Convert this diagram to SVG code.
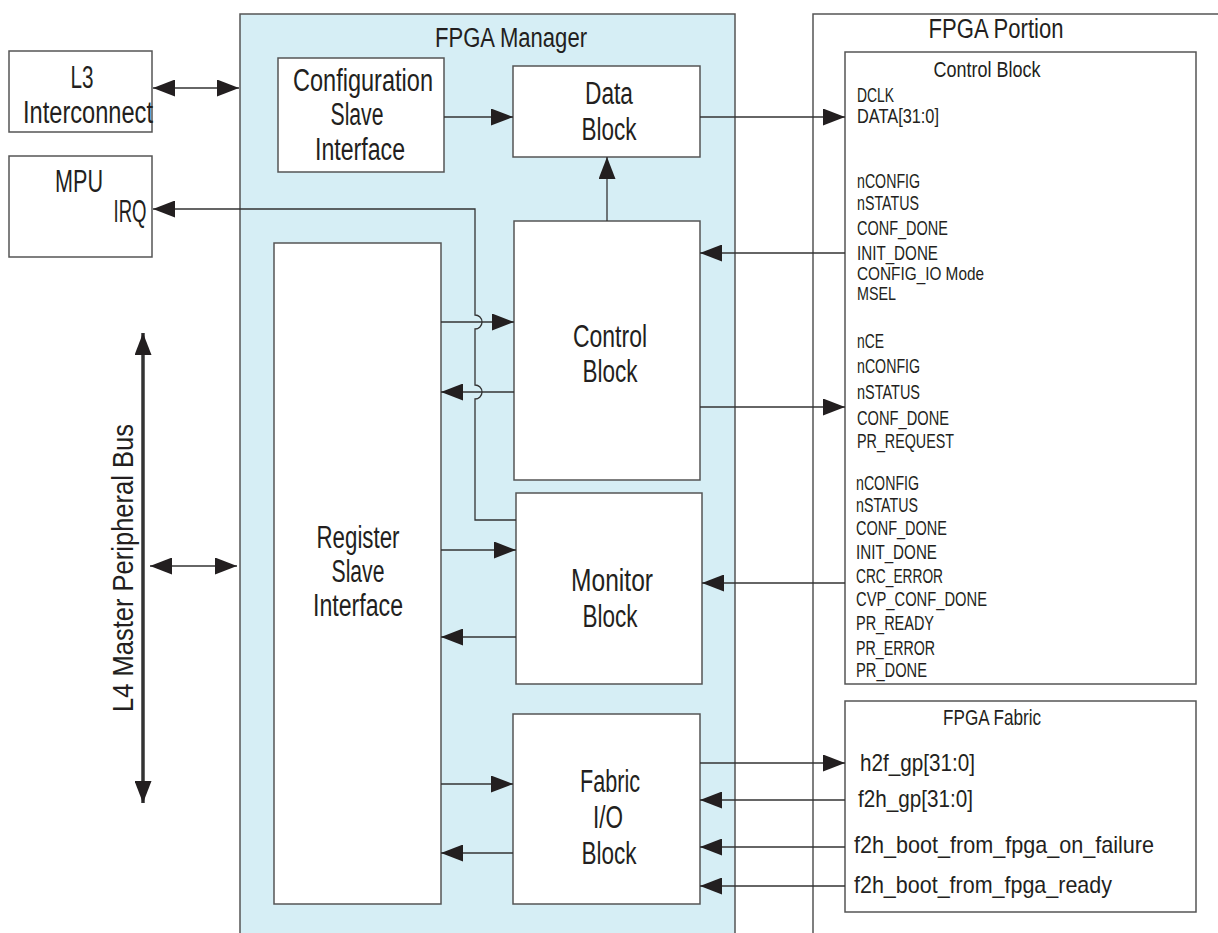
<svg xmlns="http://www.w3.org/2000/svg" width="1218" height="933" viewBox="0 0 1218 933">
<style>
text{font-family:"Liberation Sans",Arial,sans-serif;fill:#231f20}
.box{fill:#fff;stroke:#555;stroke-width:1.5}
.big{font-size:31px;text-anchor:middle}
.title{font-size:27px;text-anchor:middle}
.sig{font-size:20px}
.fab{font-size:24px}
.ln{fill:none;stroke:#333;stroke-width:1.3}
.a1{marker-end:url(#ah)}
.a2{marker-start:url(#ah);marker-end:url(#ah)}
</style>
<defs>
<marker id="ah" viewBox="0 0 22 17" refX="22" refY="8.5" markerWidth="22" markerHeight="17" markerUnits="userSpaceOnUse" orient="auto-start-reverse">
<path d="M0,0 L22,8.5 L0,17 z" fill="#231f20"/>
</marker>
</defs>
<rect width="1218" height="933" fill="#fff"/>

<g id="fpga-manager">
<rect x="240" y="14" width="495" height="940" fill="#d6eef5" stroke="#555" stroke-width="1.5"/>
<text class="title" x="511" y="47" textLength="152" lengthAdjust="spacingAndGlyphs">FPGA Manager</text>
</g>
<g id="fpga-portion">
<rect x="813" y="14" width="500" height="1000" fill="none" stroke="#555" stroke-width="1.5"/>
<text class="title" x="996" y="38" textLength="135" lengthAdjust="spacingAndGlyphs">FPGA Portion</text>
</g>

<g id="l3">
<rect class="box" x="9" y="51" width="143" height="81"/>
<text class="big" x="82" y="88" textLength="23" lengthAdjust="spacingAndGlyphs">L3</text>
<text class="big" x="88" y="123" textLength="130" lengthAdjust="spacingAndGlyphs">Interconnect</text>
</g>
<g id="mpu">
<rect class="box" x="9" y="156" width="143" height="101"/>
<text class="big" x="79" y="192" textLength="48" lengthAdjust="spacingAndGlyphs">MPU</text>
<text class="big" x="130" y="222" textLength="33" lengthAdjust="spacingAndGlyphs">IRQ</text>
</g>
<g id="config-slave">
<rect class="box" x="278" y="58" width="166" height="114"/>
<text class="big" x="363" y="91" textLength="140" lengthAdjust="spacingAndGlyphs">Configuration</text>
<text class="big" x="357" y="125" textLength="53" lengthAdjust="spacingAndGlyphs">Slave</text>
<text class="big" x="360" y="160" textLength="90" lengthAdjust="spacingAndGlyphs">Interface</text>
</g>
<g id="data-block">
<rect class="box" x="513" y="66" width="187" height="91"/>
<text class="big" x="609" y="104" textLength="48" lengthAdjust="spacingAndGlyphs">Data</text>
<text class="big" x="609" y="140" textLength="55" lengthAdjust="spacingAndGlyphs">Block</text>
</g>
<g id="control-block">
<rect class="box" x="514" y="221" width="186" height="259"/>
<text class="big" x="610" y="347" textLength="74" lengthAdjust="spacingAndGlyphs">Control</text>
<text class="big" x="610" y="382" textLength="55" lengthAdjust="spacingAndGlyphs">Block</text>
</g>
<g id="register-slave">
<rect class="box" x="274" y="243" width="167" height="661"/>
<text class="big" x="358" y="548" textLength="83" lengthAdjust="spacingAndGlyphs">Register</text>
<text class="big" x="358" y="582" textLength="53" lengthAdjust="spacingAndGlyphs">Slave</text>
<text class="big" x="358" y="616" textLength="90" lengthAdjust="spacingAndGlyphs">Interface</text>
</g>
<g id="monitor-block">
<rect class="box" x="516" y="493" width="186" height="191"/>
<text class="big" x="612" y="591" textLength="82" lengthAdjust="spacingAndGlyphs">Monitor</text>
<text class="big" x="610" y="627" textLength="55" lengthAdjust="spacingAndGlyphs">Block</text>
</g>
<g id="fabric-io-block">
<rect class="box" x="513" y="714" width="187" height="190"/>
<text class="big" x="610" y="792" textLength="60" lengthAdjust="spacingAndGlyphs">Fabric</text>
<text class="big" x="608" y="828" textLength="30" lengthAdjust="spacingAndGlyphs">I/O</text>
<text class="big" x="609" y="864" textLength="55" lengthAdjust="spacingAndGlyphs">Block</text>
</g>
<g id="fpga-control-block">
<rect class="box" x="845" y="52" width="351" height="632"/>
<text x="987" y="77" style="font-size:22px;text-anchor:middle" textLength="107" lengthAdjust="spacingAndGlyphs">Control Block</text>
<text class="sig" x="857" y="102" textLength="37" lengthAdjust="spacingAndGlyphs">DCLK</text>
<text class="sig" x="857" y="123" textLength="82" lengthAdjust="spacingAndGlyphs">DATA[31:0]</text>
<text class="sig" x="857" y="188" textLength="63" lengthAdjust="spacingAndGlyphs">nCONFIG</text>
<text class="sig" x="857" y="210" textLength="62" lengthAdjust="spacingAndGlyphs">nSTATUS</text>
<text class="sig" x="857" y="235" textLength="91" lengthAdjust="spacingAndGlyphs">CONF_DONE</text>
<text class="sig" x="857" y="260" textLength="81" lengthAdjust="spacingAndGlyphs">INIT_DONE</text>
<text class="sig" x="857" y="280" style="font-size:18.5px" textLength="127" lengthAdjust="spacingAndGlyphs">CONFIG_IO Mode</text>
<text class="sig" x="857" y="300" style="font-size:18.5px" textLength="39" lengthAdjust="spacingAndGlyphs">MSEL</text>
<text class="sig" x="857" y="348" textLength="27" lengthAdjust="spacingAndGlyphs">nCE</text>
<text class="sig" x="857" y="373" textLength="63" lengthAdjust="spacingAndGlyphs">nCONFIG</text>
<text class="sig" x="857" y="399" textLength="63" lengthAdjust="spacingAndGlyphs">nSTATUS</text>
<text class="sig" x="857" y="425" textLength="92" lengthAdjust="spacingAndGlyphs">CONF_DONE</text>
<text class="sig" x="857" y="448" textLength="97" lengthAdjust="spacingAndGlyphs">PR_REQUEST</text>
<text class="sig" x="856" y="490" textLength="63" lengthAdjust="spacingAndGlyphs">nCONFIG</text>
<text class="sig" x="856" y="512" textLength="62" lengthAdjust="spacingAndGlyphs">nSTATUS</text>
<text class="sig" x="856" y="535" textLength="91" lengthAdjust="spacingAndGlyphs">CONF_DONE</text>
<text class="sig" x="856" y="559" textLength="81" lengthAdjust="spacingAndGlyphs">INIT_DONE</text>
<text class="sig" x="856" y="583" textLength="87" lengthAdjust="spacingAndGlyphs">CRC_ERROR</text>
<text class="sig" x="856" y="606" textLength="131" lengthAdjust="spacingAndGlyphs">CVP_CONF_DONE</text>
<text class="sig" x="856" y="630" textLength="78" lengthAdjust="spacingAndGlyphs">PR_READY</text>
<text class="sig" x="856" y="655" textLength="79" lengthAdjust="spacingAndGlyphs">PR_ERROR</text>
<text class="sig" x="856" y="677" textLength="71" lengthAdjust="spacingAndGlyphs">PR_DONE</text>
</g>
<g id="fpga-fabric">
<rect class="box" x="845" y="701" width="351" height="211"/>
<text x="992" y="725" style="font-size:22px;text-anchor:middle" textLength="98" lengthAdjust="spacingAndGlyphs">FPGA Fabric</text>
<text class="fab" x="860" y="771" textLength="115" lengthAdjust="spacingAndGlyphs">h2f_gp[31:0]</text>
<text class="fab" x="858" y="807" textLength="115" lengthAdjust="spacingAndGlyphs">f2h_gp[31:0]</text>
<text class="fab" x="854" y="853" textLength="300" lengthAdjust="spacingAndGlyphs">f2h_boot_from_fpga_on_failure</text>
<text class="fab" x="854" y="893" textLength="258" lengthAdjust="spacingAndGlyphs">f2h_boot_from_fpga_ready</text>
</g>
<g id="l4-bus">
<text x="0" y="0" transform="translate(133,568) rotate(-90)" style="font-size:30px;text-anchor:middle" textLength="288" lengthAdjust="spacingAndGlyphs">L4 Master Peripheral Bus</text>
</g>

<g id="connectors">
<line class="ln a2" x1="153" y1="88" x2="239" y2="88"/>
<line class="ln a1" x1="444" y1="117" x2="513" y2="117"/>
<line class="ln a1" x1="700" y1="117" x2="845" y2="117"/>
<line class="ln a1" x1="607" y1="221" x2="607" y2="157"/>
<path class="ln a1" d="M516,520 H475 V399 A7,7 0 0 0 475,385 V329 A7,7 0 0 0 475,315 V209 H153"/>
<line class="ln a1" x1="441" y1="322" x2="514" y2="322"/>
<line class="ln a1" x1="514" y1="392" x2="441" y2="392"/>
<line class="ln a1" x1="845" y1="253" x2="700" y2="253"/>
<line class="ln a1" x1="700" y1="407" x2="845" y2="407"/>
<line class="ln a1" x1="441" y1="550" x2="516" y2="550"/>
<line class="ln a1" x1="516" y1="637" x2="441" y2="637"/>
<line class="ln a1" x1="845" y1="583" x2="702" y2="583"/>
<line class="ln a1" x1="441" y1="784" x2="513" y2="784"/>
<line class="ln a1" x1="513" y1="853" x2="441" y2="853"/>
<line class="ln a1" x1="700" y1="763" x2="845" y2="763"/>
<line class="ln a1" x1="845" y1="800" x2="700" y2="800"/>
<line class="ln a1" x1="845" y1="847" x2="700" y2="847"/>
<line class="ln a1" x1="845" y1="886" x2="700" y2="886"/>
<line class="ln a2" x1="143" y1="333" x2="143" y2="803" style="stroke-width:3.5"/>
<line class="ln a2" x1="150" y1="566" x2="237" y2="566"/>
</g>
</svg>
